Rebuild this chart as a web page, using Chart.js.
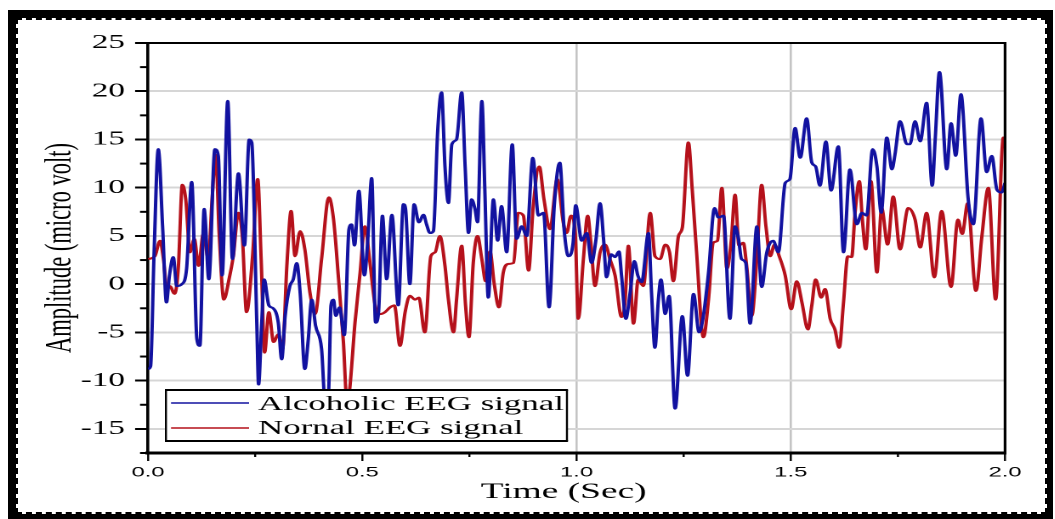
<!DOCTYPE html>
<html>
<head>
<meta charset="utf-8">
<script src="https://cdn.jsdelivr.net/npm/chart.js@4.4.1/dist/chart.umd.min.js"></script>
<style>
  html, body { margin:0; padding:0; background:#fff; }
  body { width:1055px; height:519px; overflow:hidden; position:relative; }
  #frame { position:absolute; left:8px; top:10px; width:1045px; height:512px; box-sizing:border-box;
           border-style:solid; border-color:#000; border-width:8px 6px 8px 8px; }
  #inner { position:absolute; left:16px; top:18px; width:1031px; height:496px; box-sizing:border-box;
           border:2px dashed #000; }
  #wrap { position:absolute; left:0; top:0; width:621px; height:519px; transform:scaleX(1.7); transform-origin:0 0; }
</style>
</head>
<body>
<div id="frame"></div>
<div id="inner"></div>
<div id="wrap"><canvas id="c" width="621" height="519"></canvas></div>
<script>
// ---- data ----
const alcoholicTime = [0.000,0.006,0.014,0.024,0.034,0.043,0.050,0.059,0.067,0.079,0.090,0.102,0.114,0.121,0.131,0.142,0.156,0.164,0.173,0.186,0.197,0.211,0.225,0.236,0.242,0.254,0.258,0.265,0.271,0.282,0.292,0.304,0.312,0.320,0.331,0.339,0.347,0.355,0.366,0.374,0.382,0.391,0.405,0.413,0.421,0.427,0.433,0.438,0.447,0.458,0.469,0.475,0.482,0.492,0.505,0.513,0.522,0.531,0.538,0.547,0.557,0.569,0.584,0.596,0.601,0.611,0.621,0.632,0.643,0.650,0.658,0.666,0.676,0.685,0.693,0.701,0.709,0.720,0.732,0.740,0.748,0.755,0.763,0.769,0.779,0.786,0.794,0.806,0.816,0.825,0.837,0.850,0.860,0.872,0.884,0.898,0.911,0.923,0.936,0.948,0.961,0.971,0.981,0.992,0.998,1.012,1.024,1.035,1.045,1.055,1.063,1.070,1.081,1.090,1.099,1.105,1.115,1.125,1.135,1.143,1.152,1.168,1.175,1.183,1.191,1.197,1.207,1.216,1.230,1.247,1.259,1.273,1.286,1.296,1.308,1.322,1.331,1.343,1.358,1.370,1.378,1.385,1.395,1.405,1.421,1.432,1.444,1.459,1.471,1.487,1.498,1.510,1.522,1.537,1.549,1.558,1.568,1.582,1.594,1.611,1.623,1.638,1.654,1.666,1.677,1.691,1.701,1.711,1.724,1.736,1.743,1.755,1.771,1.778,1.790,1.802,1.817,1.830,1.837,1.847,1.864,1.874,1.885,1.897,1.914,1.926,1.944,1.957,1.969,1.981,1.992,2.000];
const alcoholicAmp = [-8.8,-8.5,3.0,14.0,6.0,-1.9,0.9,2.8,-0.2,0.0,1.6,10.6,-5.7,-6.4,7.8,0.5,14.0,13.3,0.9,19.0,2.6,11.5,4.0,15.0,14.7,-4.3,-10.4,-4.3,0.5,-2.2,-2.5,-4.0,-7.8,-3.3,-0.2,0.5,2.2,-0.9,-8.8,-5.7,-1.6,-4.3,-6.7,-12.0,-11.5,-2.2,-1.6,-3.3,-2.4,-5.3,5.7,6.2,4.0,9.7,0.9,4.7,11.0,-4.0,-2.9,7.1,0.5,7.2,-2.2,8.3,7.8,0.0,8.3,6.4,7.2,6.2,5.3,5.5,15.9,19.9,12.2,8.4,14.5,15.0,19.9,12.2,5.3,8.8,7.8,6.4,19.0,9.8,-1.4,8.8,4.5,8.1,3.3,14.5,4.7,6.0,5.0,13.1,7.1,7.4,-2.4,8.1,12.6,5.7,2.9,4.3,8.2,4.5,5.3,2.2,4.5,8.4,4.7,0.7,3.1,2.8,3.4,0.9,-3.6,-0.9,2.4,0.9,0.2,5.3,-0.9,-6.6,-1.6,0.5,-3.1,-1.2,-12.9,-3.3,-9.5,-1.0,-5.0,-3.3,1.2,7.9,6.9,7.1,-3.6,6.0,4.7,2.6,2.2,-4.1,6.0,-0.3,3.3,4.5,3.3,10.5,10.9,16.2,13.1,17.2,12.6,12.2,10.2,14.8,9.7,14.3,3.3,11.9,6.2,7.4,7.1,14.0,12.2,7.4,15.2,11.9,13.4,16.9,14.5,14.5,16.9,14.8,18.8,10.2,15.0,22.0,11.9,16.7,13.3,19.7,8.8,6.2,17.2,11.6,13.3,9.8,9.5,10.5];
const normalTime = [0.000,0.016,0.028,0.036,0.044,0.051,0.062,0.071,0.080,0.088,0.098,0.108,0.118,0.129,0.141,0.149,0.158,0.166,0.177,0.189,0.199,0.211,0.220,0.230,0.244,0.256,0.264,0.272,0.282,0.293,0.304,0.314,0.324,0.334,0.343,0.355,0.366,0.378,0.390,0.405,0.422,0.433,0.444,0.456,0.464,0.469,0.483,0.495,0.506,0.518,0.530,0.541,0.553,0.565,0.575,0.588,0.600,0.611,0.623,0.632,0.646,0.660,0.670,0.681,0.693,0.701,0.713,0.720,0.732,0.741,0.749,0.759,0.769,0.779,0.788,0.798,0.808,0.819,0.829,0.841,0.853,0.864,0.876,0.888,0.899,0.913,0.924,0.938,0.955,0.969,0.977,0.987,0.997,1.004,1.016,1.026,1.034,1.043,1.055,1.067,1.078,1.090,1.105,1.113,1.121,1.133,1.144,1.156,1.172,1.183,1.195,1.207,1.217,1.226,1.238,1.247,1.261,1.270,1.280,1.296,1.308,1.319,1.329,1.339,1.351,1.361,1.370,1.379,1.389,1.397,1.409,1.421,1.432,1.442,1.452,1.462,1.473,1.487,1.501,1.514,1.526,1.540,1.549,1.558,1.571,1.580,1.592,1.603,1.613,1.623,1.633,1.642,1.650,1.660,1.667,1.675,1.687,1.701,1.712,1.726,1.739,1.755,1.774,1.790,1.802,1.817,1.835,1.852,1.874,1.890,1.900,1.913,1.932,1.946,1.961,1.978,1.996,2.000];
const normalAmp = [2.6,2.9,4.5,2.6,-0.5,-0.2,-1.0,1.9,10.3,8.8,3.3,4.7,1.9,5.2,2.6,8.4,13.4,5.3,-1.6,0.5,2.9,7.4,5.0,-2.9,2.9,10.9,2.6,-7.1,-2.9,-6.0,-5.2,-6.7,1.9,7.6,2.9,5.5,3.6,-0.9,-3.1,2.6,9.0,6.7,0.9,-6.0,-12.0,-11.5,-4.0,1.2,6.0,2.2,-2.2,-3.1,-2.9,-2.4,-2.2,-6.4,-2.9,-1.2,-1.6,-1.4,-5.0,2.9,3.3,5.0,1.9,-1.6,-5.0,-1.6,4.0,-2.2,-5.5,2.2,5.0,2.6,0.3,3.4,0.0,-2.4,1.2,2.1,2.2,7.4,7.1,1.4,8.1,12.2,8.8,5.7,10.9,6.4,5.3,7.1,5.3,-3.6,2.6,7.1,4.0,-0.2,3.3,4.1,2.6,0.9,-3.4,-1.9,4.0,-4.1,0.5,-0.2,7.4,2.9,2.6,4.1,3.3,0.3,5.0,5.9,14.7,9.8,3.4,-5.5,-1.6,4.3,4.5,10.0,1.6,4.5,9.3,4.0,4.3,1.9,-3.3,2.9,10.3,6.0,2.9,4.1,2.9,0.9,-2.6,0.3,-1.9,-4.7,-2.2,0.5,-1.4,-0.5,-3.6,-4.7,-6.6,-1.9,2.9,2.8,7.4,10.7,6.7,3.6,10.7,1.2,7.9,4.1,9.1,3.6,7.9,6.7,3.8,7.4,0.7,7.6,-0.3,6.7,5.2,8.4,-0.7,5.0,10.0,-1.6,15.2,14.5];

const seriesNames = ['Alcoholic EEG signal', 'Nornal EEG signal'];
const seriesColors = ['#1212a0', '#b5111b'];
const yMajorTicks = [-15, -10, -5, 0, 5, 10, 15, 20, 25];
const yMinorTicks = [-17.5, -12.5, -7.5, -2.5, 2.5, 7.5, 12.5, 17.5, 22.5];
const xMajorTicks = [0, 0.5, 1.0, 1.5, 2.0];
const xMinorTicks = [0.25, 0.75, 1.25, 1.75];
const xGridValues = [1.0, 1.5];
const xTitle = 'Time (Sec)';
const yTitle = 'Amplitude (micro volt)';

const SX = 1.7; // horizontal stretch of the reference picture

const decor = {
  id: 'decor',
  afterDraw(chart) {
    const { ctx, chartArea: a, scales: { x, y } } = chart;
    ctx.save();
    ctx.strokeStyle = '#000';
    ctx.lineWidth = 2;
    ctx.beginPath(); ctx.moveTo(a.left, a.top); ctx.lineTo(a.right + 0.8, a.top); ctx.stroke();
    ctx.lineWidth = 1.6;
    ctx.beginPath(); ctx.moveTo(a.right, a.top); ctx.lineTo(a.right, a.bottom + 1.5); ctx.stroke();
    // minor ticks
    ctx.lineWidth = 2;
    yMinorTicks.forEach(v => { const py = y.getPixelForValue(v);
      ctx.beginPath(); ctx.moveTo(a.left, py); ctx.lineTo(a.left - 4.7, py); ctx.stroke(); });
    ctx.lineWidth = 1.2;
    xMinorTicks.forEach(v => { const px = x.getPixelForValue(v);
      ctx.beginPath(); ctx.moveTo(px, a.bottom); ctx.lineTo(px, a.bottom + 4); ctx.stroke(); });
    // x axis title (drawn slightly left of centre, as in the reference)
    ctx.fillStyle = '#000'; ctx.font = '22px "Liberation Serif"';
    ctx.textAlign = 'center'; ctx.textBaseline = 'middle';
    ctx.fillText(xTitle, x.getPixelForValue(0.97), 492);
    // legend box
    const L = 97.6, R = 333.5, T = 390, B = 441;
    ctx.fillStyle = '#fff';
    ctx.fillRect(L, T, R - L, B - T);
    ctx.lineWidth = 2;
    ctx.beginPath(); ctx.moveTo(L - 0.6, T); ctx.lineTo(R + 0.6, T); ctx.moveTo(L - 0.6, B); ctx.lineTo(R + 0.6, B); ctx.stroke();
    ctx.lineWidth = 1.2;
    ctx.beginPath(); ctx.moveTo(L, T); ctx.lineTo(L, B); ctx.moveTo(R, T); ctx.lineTo(R, B); ctx.stroke();
    const rows = [403, 428], bases = [410, 434];
    chart.data.datasets.forEach((ds, i) => {
      ctx.strokeStyle = ds.borderColor; ctx.lineWidth = 1.5;
      ctx.beginPath(); ctx.moveTo(100.6, rows[i]); ctx.lineTo(146.5, rows[i]); ctx.stroke();
      ctx.fillStyle = '#000'; ctx.font = '20.5px "Liberation Serif"'; ctx.textBaseline = 'alphabetic'; ctx.textAlign = 'left';
      ctx.fillText(ds.label, 151.8, bases[i]);
    });
    ctx.restore();
  }
};

const mk = (ts, vs) => ts.map((t, i) => ({ x: t, y: vs[i] }));

new Chart(document.getElementById('c'), {
  type: 'line',
  data: {
    datasets: [
      { label: seriesNames[0], data: mk(alcoholicTime, alcoholicAmp), borderColor: seriesColors[0], borderWidth: 2,
        pointRadius: 0, cubicInterpolationMode: 'monotone', fill: false },
      { label: seriesNames[1], data: mk(normalTime, normalAmp), borderColor: seriesColors[1], borderWidth: 2,
        pointRadius: 0, cubicInterpolationMode: 'monotone', fill: false }
    ]
  },
  options: {
    responsive: false, animation: false, devicePixelRatio: 2,
    layout: { padding: { left: 0, top: 43, right: 29.8, bottom: 0 } },
    plugins: { legend: { display: false }, tooltip: { enabled: false } },
    scales: {
      x: {
        type: 'linear', min: 0, max: 2,
        afterBuildTicks: s => { s.ticks = xMajorTicks.map(v => ({ value: v })); },
        afterFit: s => { s.height = 66; },
        ticks: { callback: v => Number(v).toFixed(1), font: { family: 'Liberation Sans', size: 14 }, color: '#000',
                 padding: 3, maxRotation: 0, autoSkip: false },
        grid: { color: c => (c.tick && xGridValues.includes(c.tick.value)) ? '#c4c4c4' : 'rgba(0,0,0,0)',
                lineWidth: 1.3, tickColor: '#000', tickLength: 8, tickWidth: 1.2 },
        border: { color: '#000', width: 3 },
        title: { display: false, text: xTitle }
      },
      y: {
        type: 'linear', min: -17.5, max: 25,
        afterBuildTicks: s => { s.ticks = yMajorTicks.map(v => ({ value: v })); },
        afterFit: s => { s.width = 87.06; },
        ticks: { callback: v => String(v), font: { family: 'Liberation Serif', size: 19.5 }, color: '#000', padding: 6 },
        grid: { color: c => (c.tick && c.tick.value === 25) ? 'rgba(0,0,0,0)' : '#d6d6d6',
                lineWidth: 2, tickColor: '#000', tickLength: 7.6, tickWidth: 2 },
        border: { color: '#000', width: 1.8 },
        title: { display: true, text: yTitle, font: { family: 'Liberation Serif', size: 22.5 }, color: '#000',
                 padding: { top: 22, bottom: 0 } }
      }
    }
  },
  plugins: [decor]
});
</script>
</body>
</html>
